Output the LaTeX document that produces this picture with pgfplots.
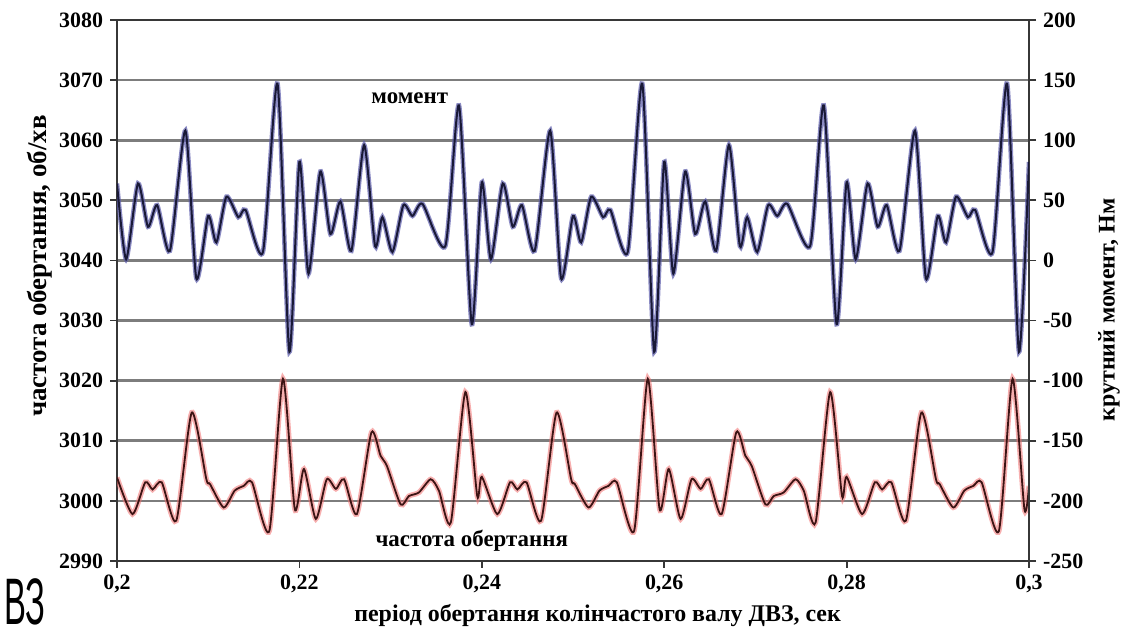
\documentclass[border=0pt]{standalone}
\usepackage{fontspec}
\setmainfont{Liberation Serif}
\newfontfamily\vzfont{Liberation Sans}
\usepackage{pgfplots}
\usepackage{pgfplotstable}
\pgfplotsset{compat=1.18}

% torque, N*m (right axis)
\pgfplotstableread{
t T
0.2000 64
0.2010 1
0.2023 64
0.2034 28
0.2044 46
0.2058 8
0.2075 108
0.2087 -15
0.2100 37
0.2109 15
0.2120 53
0.2133 36
0.2141 42
0.2160 7
0.2176 147
0.2189 -76
0.2200 82
0.2210 -11
0.2223 74
0.2234 22
0.2245 49
0.2257 8
0.2271 96
0.2283 12
0.2291 36
0.2302 7
0.2314 46
0.2324 37
0.2335 47
0.2360 12
0.2375 129
0.2389 -53
0.2400 65
0.2410 1
0.2423 64
0.2434 28
0.2444 46
0.2458 8
0.2475 108
0.2487 -15
0.2500 37
0.2509 15
0.2520 53
0.2533 36
0.2541 42
0.2560 7
0.2576 147
0.2589 -76
0.2600 82
0.2610 -11
0.2623 74
0.2634 22
0.2645 49
0.2657 8
0.2671 96
0.2683 12
0.2691 36
0.2702 7
0.2714 46
0.2724 37
0.2735 47
0.2760 12
0.2775 129
0.2789 -53
0.2800 65
0.2810 1
0.2823 64
0.2834 28
0.2844 46
0.2858 8
0.2875 108
0.2887 -15
0.2900 37
0.2909 15
0.2920 53
0.2933 36
0.2941 42
0.2960 7
0.2976 147
0.2989 -76
0.3000 82
}\torque

% rotation speed, rpm (left axis)
\pgfplotstableread{
t n
0.2000 3003.9
0.2017 2997.8
0.2031 3003.1
0.2039 3001.9
0.2049 3003.1
0.2065 2996.7
0.2082 3014.7
0.2098 3003.6
0.2102 3002.8
0.2117 2998.9
0.2129 3001.7
0.2139 3002.5
0.2148 3003.1
0.2167 2995.0
0.2182 3020.3
0.2195 2998.6
0.2205 3005.3
0.2218 2997.0
0.2230 3003.6
0.2240 3002.0
0.2249 3003.6
0.2263 2997.8
0.2279 3011.4
0.2289 3007.5
0.2296 3005.8
0.2311 2999.4
0.2320 3000.8
0.2331 3001.4
0.2344 3003.6
0.2353 3001.7
0.2366 2996.4
0.2382 3018.1
0.2395 3000.8
0.2400 3004.0
0.2417 2997.8
0.2431 3003.1
0.2439 3001.9
0.2449 3003.1
0.2465 2996.7
0.2482 3014.7
0.2498 3003.6
0.2502 3002.8
0.2517 2998.9
0.2529 3001.7
0.2539 3002.5
0.2548 3003.1
0.2567 2995.0
0.2582 3020.3
0.2595 2998.6
0.2605 3005.3
0.2618 2997.0
0.2630 3003.6
0.2640 3002.0
0.2649 3003.6
0.2663 2997.8
0.2679 3011.4
0.2689 3007.5
0.2696 3005.8
0.2711 2999.4
0.2720 3000.8
0.2731 3001.4
0.2744 3003.6
0.2753 3001.7
0.2766 2996.4
0.2782 3018.1
0.2795 3000.8
0.2800 3004.0
0.2817 2997.8
0.2831 3003.1
0.2839 3001.9
0.2849 3003.1
0.2865 2996.7
0.2882 3014.7
0.2898 3003.6
0.2902 3002.8
0.2917 2998.9
0.2929 3001.7
0.2939 3002.5
0.2948 3003.1
0.2967 2995.0
0.2982 3020.3
0.2995 2998.6
0.3000 3002.5
}\speed

\definecolor{gridgray}{RGB}{125,125,125}
\definecolor{framegray}{RGB}{55,55,55}
\definecolor{bluehalo}{RGB}{90,90,170}
\definecolor{bluecore}{RGB}{25,25,55}
\definecolor{redhalo}{RGB}{240,110,110}
\definecolor{redcore}{RGB}{60,20,20}

\pgfplotsset{
  common/.style={
    scale only axis, width=456bp, height=270.5bp,
    xmin=0.2, xmax=0.3,
    tick align=outside, major tick length=3.5bp,
    tick style={framegray, line width=0.9bp},
    axis line style={framegray, line width=1.3bp},
    ticklabel style={font=\bfseries\fontsize{11}{13}\selectfont},
    /pgf/number format/assume math mode=true,
    /pgf/number format/set thousands separator={},
    label style={font=\bfseries\fontsize{12}{14}\selectfont},
  }
}

\begin{document}
\begin{tikzpicture}
\begin{axis}[common, name=ax,
  ymin=2990, ymax=3080,
  ytick={2990,3000,...,3080},
  xtick={0.2,0.22,0.24,0.26,0.28,0.3},
  xticklabels={{0,2},{0,22},{0,24},{0,26},{0,28},{0,3}},
  ytick pos=left, xtick pos=bottom,
  ymajorgrids, grid style={gridgray, line width=1.3bp},
  xlabel={період обертання колінчастого валу ДВЗ, сек},
  xlabel style={at={(axis description cs:0.527,-0.1)}, anchor=center},
  ylabel={частота обертання, об/хв},
  ylabel style={at={(axis description cs:-0.0844,0.545)}, anchor=center, font=\bfseries\fontsize{13.5}{15}\selectfont},
]
\addplot[redhalo, opacity=0.55, line width=2.6bp, smooth, tension=0.4] table[x=t,y=n] {\speed};
\addplot[redcore, line width=0.9bp, smooth, tension=0.4] table[x=t,y=n] {\speed};
\node[font=\bfseries\fontsize{11.5}{13}\selectfont] at (axis cs:0.2321,3067) {момент};
\node[font=\bfseries\fontsize{11.5}{13}\selectfont] at (axis cs:0.2389,2993.3) {частота обертання};
\end{axis}
\begin{axis}[common,
  at={(ax.south west)}, anchor=south west,
  ymin=-250, ymax=200,
  ytick={-250,-200,...,200},
  axis x line=none, axis y line*=right,
  ylabel={крутний момент, Нм},
  ylabel style={at={(axis description cs:1.0877,0.464)}, anchor=center},
]
\addplot[bluehalo, opacity=0.7, line width=2.3bp, smooth, tension=0.4] table[x=t,y=T] {\torque};
\addplot[bluecore, line width=1.0bp, smooth, tension=0.4] table[x=t,y=T] {\torque};
\end{axis}
\node[anchor=north west, inner sep=0pt, xscale=0.5, font=\vzfont\fontsize{33}{33}\selectfont] at ([shift={(-56.5bp,-8.6bp)}]ax.south west) {ВЗ};
\pgfresetboundingbox
\path[use as bounding box] ([shift={(-58.5bp,-36bp)}]ax.south west) rectangle ([shift={(59bp,10bp)}]ax.north east);
\end{tikzpicture}
\end{document}
